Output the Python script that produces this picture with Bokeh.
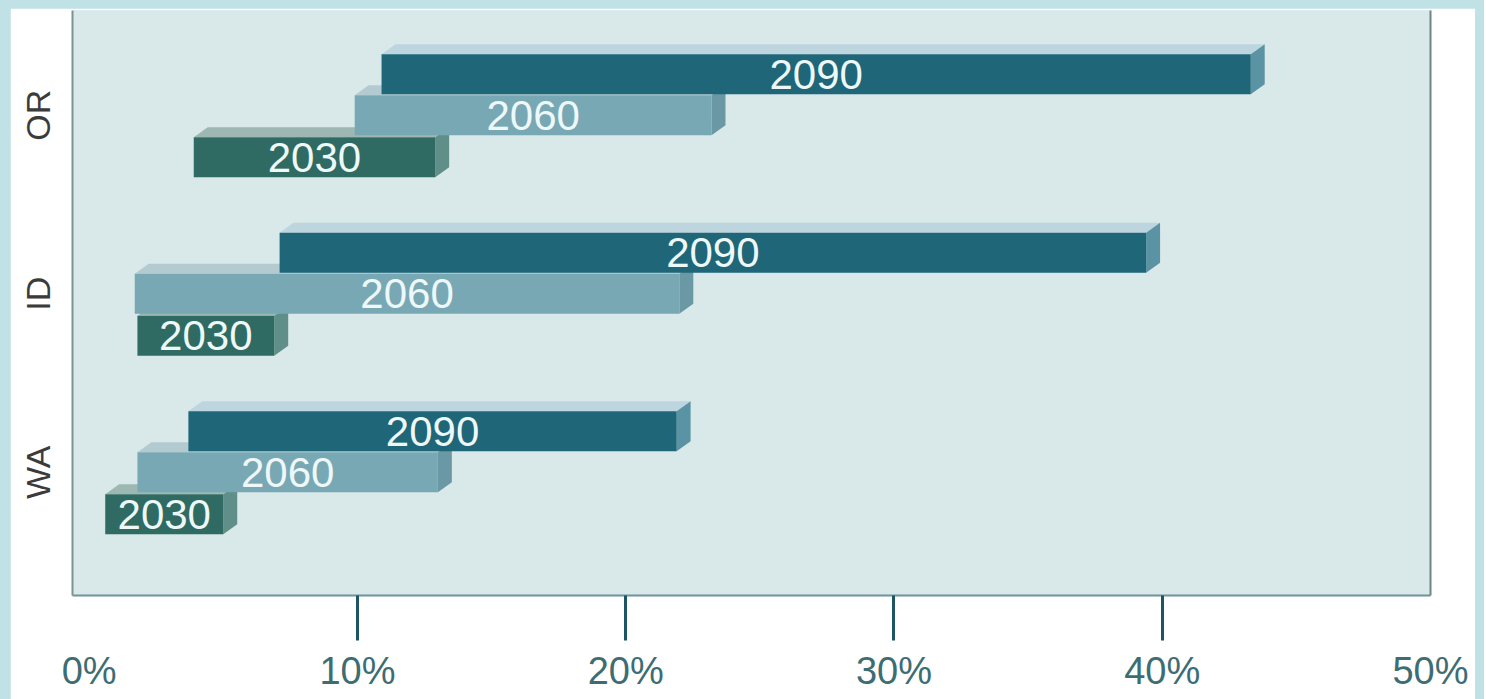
from bokeh.plotting import figure
from bokeh.layouts import column
from bokeh.models import Range1d, LinearAxis, FixedTicker, PrintfTickFormatter, ColumnDataSource
from bokeh.core.properties import value
from bokeh.embed import file_html
from bokeh.resources import INLINE

# ---- data (percent) ----
categories = ["WA", "ID", "OR"]
years = ["2030", "2060", "2090"]
start_2030 = [0.6, 1.8, 3.9]
end_2030 = [5.0, 6.9, 12.9]
start_2060 = [1.8, 1.7, 9.9]
end_2060 = [13.0, 22.0, 23.2]
start_2090 = [3.7, 7.1, 10.9]
end_2090 = [21.9, 39.4, 43.3]
x_ticks = [0, 10, 20, 30, 40, 50]

series = {
    "2030": (start_2030, end_2030),
    "2060": (start_2060, end_2060),
    "2090": (start_2090, end_2090),
}

# ---- styles ----
front_col = {"2030": "#2f6b62", "2060": "#79a8b5", "2090": "#1e6678"}
top_col = {"2030": "#9db8b3", "2060": "#b3cbd0", "2090": "#bcd5de"}
side_col = {"2030": "#5f8f88", "2060": "#6a98a4", "2090": "#5a93a4"}
offset = {"2030": -0.235, "2060": 0.0, "2090": 0.23}
half_h = 0.112
dx = 0.52   # depth in x (data units)
dy = 0.056  # depth in y (data units)

p = figure(width=1465, height=691, output_backend="svg", toolbar_location=None,
           x_range=Range1d(-0.62, 50), y_range=Range1d(-0.69, 2.587),
           x_axis_location=None, y_axis_location=None,
           min_border_left=62, min_border_right=45, min_border_top=2, min_border_bottom=104)
p.background_fill_color = "#d9e8e9"
p.border_fill_color = "white"
p.outline_line_color = None
p.grid.visible = False

cat_idx = list(range(len(categories)))

label_x, label_y, label_t = [], [], []
for yr in years:
    s, e = series[yr]
    y0 = [i + offset[yr] - half_h for i in cat_idx]
    y1 = [i + offset[yr] + half_h for i in cat_idx]
    top_xs = [[a, b, b + dx, a + dx] for a, b in zip(s, e)]
    top_ys = [[t, t, t + dy, t + dy] for t in y1]
    side_xs = [[b, b + dx, b + dx, b] for b in e]
    side_ys = [[bt, bt + dy, t + dy, t] for bt, t in zip(y0, y1)]
    p.patches(xs=top_xs, ys=top_ys, fill_color=top_col[yr], line_color=None)
    p.patches(xs=side_xs, ys=side_ys, fill_color=side_col[yr], line_color=None)
    p.quad(left=s, right=e, bottom=y0, top=y1, fill_color=front_col[yr], line_color=None)
    for i in cat_idx:
        label_x.append((s[i] + e[i]) / 2)
        label_y.append(i + offset[yr])
        label_t.append(yr)

src = ColumnDataSource(dict(x=label_x, y=label_y, t=label_t))
p.text(x="x", y="y", text="t", source=src, text_align="center", text_baseline="middle",
       text_color="#eef8f9", text_font=value("Liberation Sans"), text_font_size="42px")

# x axis: tick marks
ax_ticks = LinearAxis(ticker=FixedTicker(ticks=[10, 20, 30, 40]))
ax_ticks.major_tick_out = 45
ax_ticks.major_tick_in = 0
ax_ticks.major_tick_line_color = "#1d5566"
ax_ticks.major_tick_line_width = 3
ax_ticks.minor_tick_line_color = None
ax_ticks.axis_line_color = "#6e9499"
ax_ticks.axis_line_width = 2
ax_ticks.major_label_text_font_size = "1px"
ax_ticks.major_label_text_alpha = 0
ax_ticks.major_label_standoff = 0
p.add_layout(ax_ticks, "below")

# x axis: labels
ax_lbl = LinearAxis(ticker=FixedTicker(ticks=x_ticks), formatter=PrintfTickFormatter(format="%d%%"))
ax_lbl.axis_line_color = None
ax_lbl.major_tick_line_color = None
ax_lbl.minor_tick_line_color = None
ax_lbl.major_label_text_font = "Liberation Sans"
ax_lbl.major_label_text_font_size = "38px"
ax_lbl.major_label_text_color = "#3d6d72"
ax_lbl.major_label_standoff = 3
p.add_layout(ax_lbl, "below")

# y axis: categories
ay = LinearAxis(ticker=FixedTicker(ticks=cat_idx))
ay.major_label_overrides = {i: c for i, c in zip(cat_idx, categories)}
ay.major_label_orientation = "vertical"
ay.major_label_text_font = "Liberation Sans"
ay.major_label_text_font_size = "34px"
ay.major_label_text_color = "#3b3b3b"
ay.major_label_standoff = 9
ay.major_tick_line_color = None
ay.minor_tick_line_color = None
ay.axis_line_color = "#7d9393"
ay.axis_line_width = 2
p.add_layout(ay, "left")

# right frame line
ar = LinearAxis(ticker=FixedTicker(ticks=[]))
ar.major_tick_line_color = None
ar.minor_tick_line_color = None
ar.major_label_text_font_size = "1px"
ar.axis_line_color = "#6c8585"
ar.axis_line_width = 2
p.add_layout(ar, "right")

page = column(p, styles={"background-color": "#c0e1e5", "padding": "8px 9px 0px 10px"})

open("out.html", "w").write(file_html(page, INLINE))
